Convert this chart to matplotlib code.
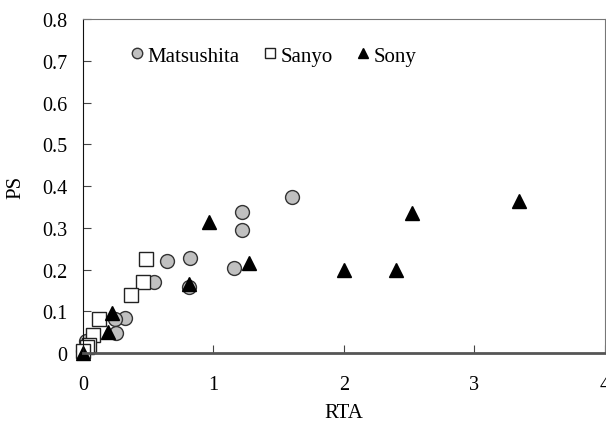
import matplotlib
matplotlib.use("Agg")
import matplotlib.pyplot as plt

plt.rcParams['font.family'] = ['Liberation Serif', 'DejaVu Serif']

# RTA / PS values
matsushita_x = [1.60, 1.22, 1.22, 1.16, 0.82, 0.81, 0.645, 0.546, 0.322, 0.245, 0.253, 0.02, 0.0]
matsushita_y = [0.374, 0.338, 0.295, 0.204, 0.227, 0.158, 0.221, 0.170, 0.084, 0.082, 0.047, 0.03, 0.005]

sanyo_x = [0.48, 0.457, 0.365, 0.125, 0.074, 0.048, 0.03, 0.0]
sanyo_y = [0.225, 0.170, 0.139, 0.082, 0.044, 0.019, 0.014, 0.005]

sony_x = [3.34, 2.52, 2.40, 2.00, 1.27, 0.965, 0.815, 0.22, 0.194, 0.0]
sony_y = [0.365, 0.335, 0.200, 0.200, 0.215, 0.315, 0.166, 0.096, 0.050, 0.0]

x_ticks = [0, 1, 2, 3, 4]
y_ticks = [0, 0.1, 0.2, 0.3, 0.4, 0.5, 0.6, 0.7, 0.8]

fig = plt.figure(figsize=(6.06, 4.35), dpi=100)
ax = fig.add_axes([0.137, 0.186, 0.861, 0.768])

ax.plot(matsushita_x, matsushita_y, 'o', ms=10, mfc='#c0c0c0', mec='#333333',
        mew=1, label='Matsushita', clip_on=False)
ax.plot(sanyo_x, sanyo_y, 's', ms=10, mfc='white', mec='#222222',
        mew=1, label='Sanyo', clip_on=False)
ax.plot(sony_x, sony_y, '^', ms=10, mfc='black', mec='black',
        mew=1, label='Sony', clip_on=False)

ax.set_xlim(0, 4)
ax.set_ylim(0, 0.8)
ax.set_xticks(x_ticks)
ax.set_yticks(y_ticks)
ax.set_xticklabels([str(t) for t in x_ticks])
ax.set_yticklabels(['%g' % t for t in y_ticks])
ax.tick_params(direction='in', length=6, labelsize=14.5, color='#444444')
ax.tick_params(axis='x', pad=16)
ax.tick_params(axis='y', pad=11.5)

for s in ax.spines.values():
    s.set_color('#777777')
ax.spines['bottom'].set_color('#555555')
ax.spines['bottom'].set_linewidth(2)
ax.spines['left'].set_color('#111111')

ax.set_xlabel('RTA', fontsize=15, labelpad=6)
ax.set_ylabel('PS', fontsize=15, labelpad=12)

ax.legend(loc='upper left', bbox_to_anchor=(0.05, 0.975), ncol=3, frameon=False,
          fontsize=15, markerscale=0.75, handletextpad=0.05, columnspacing=1.0,
          handlelength=0.9)

fig.savefig('out.png', dpi=100)
